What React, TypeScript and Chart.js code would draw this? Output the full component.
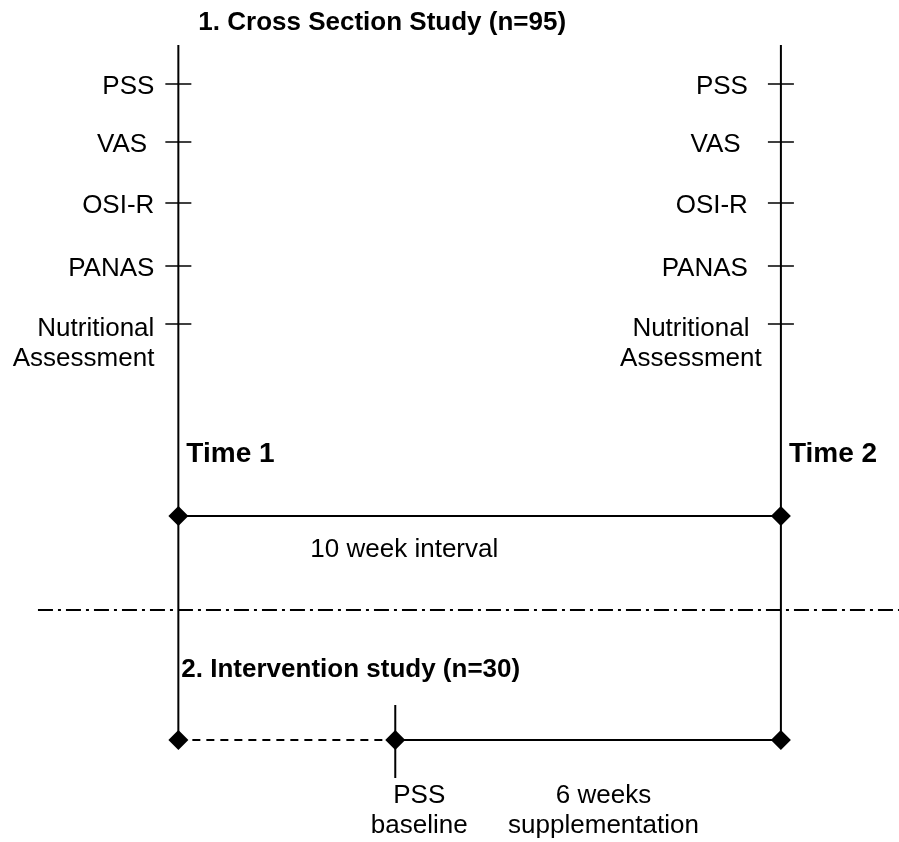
import { useEffect, useRef } from 'react';
import { Chart, registerables } from 'chart.js';

Chart.register(...registerables);

// ---- content ----
const studyTitle = '1. Cross Section Study (n=95)';
const interventionTitle = '2. Intervention study (n=30)';
const measures = ['PSS', 'VAS ', 'OSI-R', 'PANAS', 'Nutritional\nAssessment'];
const measureRows = [84, 142, 203, 266, 324]; // vertical levels of the measures
const timeWeeks = [0, 10]; // Time 1 and Time 2, in weeks
const timeLabels = ['Time 1', 'Time 2'];
const intervalLabel = '10 week interval';
const baselineWeek = 3.6; // PSS baseline of the intervention
const baselineLabel = 'PSS\nbaseline';
const supplementLabel = '6 weeks\nsupplementation';

// vertical levels (diagram rows)
const timelineTop = 45;
const intervalRow = 516;
const dividerRow = 610;
const interventionRow = 740;
const baselineTickTop = 705;
const baselineTickBottom = 778;

const FONT = '"Liberation Sans", Arial, Helvetica, sans-serif';

function drawLines(ctx: CanvasRenderingContext2D, text: string, x: number, y: number, lh: number) {
  text.split('\n').forEach((line, i) => ctx.fillText(line, x, y + i * lh));
}

const textPlugin = {
  id: 'diagramText',
  afterDraw(chart: any) {
    const { ctx } = chart;
    const xs = chart.scales.x;
    const ys = chart.scales.y;
    const x0 = xs.getPixelForValue(timeWeeks[0]);
    const x1 = xs.getPixelForValue(timeWeeks[1]);
    const xb = xs.getPixelForValue(baselineWeek);
    ctx.save();
    ctx.fillStyle = '#000';
    ctx.textBaseline = 'alphabetic';

    // titles
    ctx.font = `bold 26px ${FONT}`;
    ctx.textAlign = 'left';
    ctx.fillText(studyTitle, x0 + 20, ys.getPixelForValue(timelineTop) - 15);
    ctx.fillText(interventionTitle, x0 + 3, ys.getPixelForValue(interventionRow) - 63);

    // measures
    ctx.font = `26px ${FONT}`;
    measures.forEach((m, i) => {
      const py = ys.getPixelForValue(measureRows[i]) + 10;
      const multi = m.includes('\n');
      // left side
      ctx.textAlign = 'right';
      drawLines(ctx, m, x0 - 24, py + (multi ? 2 : 0), 30);
      // right side
      if (multi) {
        ctx.textAlign = 'center';
        drawLines(ctx, m, x1 - 90, py + 2, 30);
      } else {
        ctx.textAlign = 'right';
        drawLines(ctx, m, x1 - 33, py, 30);
      }
    });

    // time labels
    ctx.font = `bold 28px ${FONT}`;
    ctx.textAlign = 'left';
    timeWeeks.forEach((w, i) => {
      ctx.fillText(timeLabels[i], xs.getPixelForValue(w) + 8, ys.getPixelForValue(intervalRow) - 54);
    });

    // interval label
    ctx.font = `26px ${FONT}`;
    ctx.textAlign = 'center';
    ctx.fillText(intervalLabel, x0 + (x1 - x0) * 0.375, ys.getPixelForValue(intervalRow) + 41);

    // bottom labels
    const by = ys.getPixelForValue(interventionRow) + 63;
    drawLines(ctx, baselineLabel, xb + 24, by, 30);
    drawLines(ctx, supplementLabel, xb + (x1 - xb) * 0.54, by, 30);
    ctx.restore();
  },
};

export default function App() {
  const ref = useRef<HTMLCanvasElement | null>(null);

  useEffect(() => {
    document.body.style.margin = '0';
    const canvas = ref.current;
    if (!canvas) return;

    const black = '#000000';
    const seg = (pts: { x: number; y: number }[], extra: any = {}) => ({
      type: 'line',
      data: pts,
      showLine: true,
      borderColor: black,
      backgroundColor: black,
      borderWidth: 2,
      pointRadius: 0,
      fill: false,
      ...extra,
    });

    const datasets: any[] = [];
    // vertical timelines
    timeWeeks.forEach((w) => {
      datasets.push(seg([{ x: w, y: timelineTop }, { x: w, y: interventionRow }]));
    });
    // measure ticks
    datasets.push({
      type: 'scatter',
      data: timeWeeks.flatMap((w) => measureRows.map((r) => ({ x: w, y: r }))),
      pointStyle: 'line',
      pointRadius: 13,
      borderColor: black,
      borderWidth: 1.5,
    });
    // 10 week interval
    datasets.push(seg(timeWeeks.map((w) => ({ x: w, y: intervalRow })), {
      pointStyle: 'rectRot',
      pointRadius: 10,
      pointBorderWidth: 0,
    }));
    // divider (dash-dot)
    datasets.push(seg([{ x: -2.33, y: dividerRow }, { x: 12, y: dividerRow }], {
      borderDash: [15, 5, 3, 5],
    }));
    // run-in (dashed) and supplementation (solid)
    datasets.push(seg([{ x: timeWeeks[0], y: interventionRow }, { x: baselineWeek, y: interventionRow }], {
      borderDash: [8, 6],
    }));
    datasets.push(seg([{ x: baselineWeek, y: interventionRow }, { x: timeWeeks[1], y: interventionRow }]));
    // baseline vertical tick
    datasets.push(seg([{ x: baselineWeek, y: baselineTickTop }, { x: baselineWeek, y: baselineTickBottom }]));
    // intervention diamonds
    datasets.push({
      type: 'scatter',
      data: [timeWeeks[0], baselineWeek, timeWeeks[1]].map((w) => ({ x: w, y: interventionRow })),
      pointStyle: 'rectRot',
      pointRadius: 10,
      borderWidth: 0,
      backgroundColor: black,
      borderColor: black,
    });

    const chart = new Chart(canvas, {
      type: 'scatter',
      data: { datasets },
      options: {
        animation: false,
        responsive: false,
        maintainAspectRatio: false,
        layout: { padding: 0, autoPadding: false },
        events: [],
        scales: {
          x: { type: 'linear', min: -2.96, max: 11.96, display: false },
          y: { type: 'linear', min: 0, max: 842, reverse: true, display: false },
        },
        plugins: {
          legend: { display: false },
          tooltip: { enabled: false },
          title: { display: false },
        },
      },
      plugins: [textPlugin],
    } as any);

    return () => chart.destroy();
  }, []);

  return (
    <div style={{ width: 899, height: 842, background: '#fff' }}>
      <canvas ref={ref} width={899} height={842} style={{ display: 'block' }} />
    </div>
  );
}
